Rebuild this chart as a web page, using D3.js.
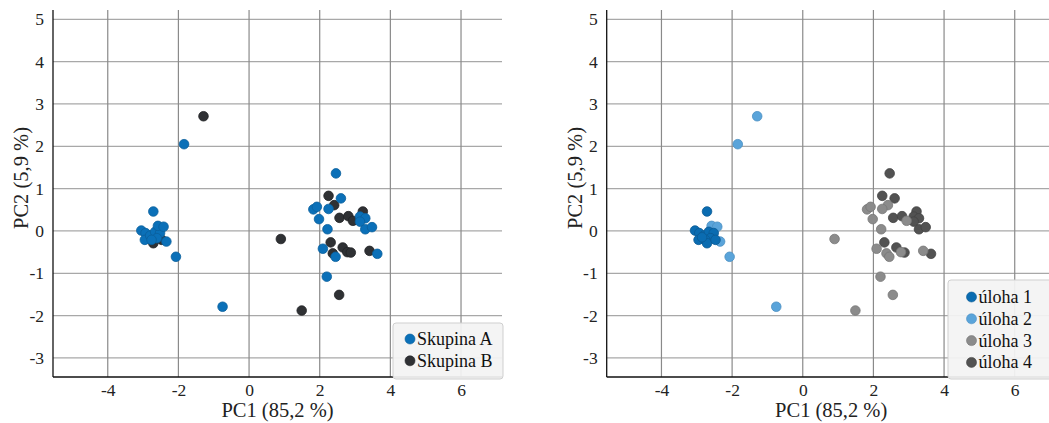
<!DOCTYPE html>
<html>
<head>
<meta charset="utf-8">
<script src="https://cdn.jsdelivr.net/npm/d3@7"></script>
<style>
  body { margin: 0; background: #fff; }
  svg { display: block; font-family: "Liberation Serif", "Times New Roman", serif; }
</style>
</head>
<body>
<svg id="chart" width="1049" height="423"></svg>
<script>
// PCA scores (PC1, PC2), group and task for each sample
const pc1 = [
  -3.05, -2.93, -2.95, -2.80, -2.66, -2.52, -2.61, -2.76, -2.71, -2.47, -2.85, -2.71,
  -1.29, -1.84, -2.58, -2.42, -2.34, -2.07, -0.75,
  0.90, 1.49, 2.55, 2.20, 2.46, 2.25, 2.60, 2.41, 1.82, 1.92, 2.25, 1.98,
  2.56, 2.81, 2.94, 3.22, 3.14, 3.29, 3.14, 3.29, 3.48, 2.22, 2.31, 2.09,
  2.65, 2.37, 2.45, 2.78, 2.88, 3.41, 3.63
];
const pc2 = [
  0.01, -0.05, -0.21, -0.11, -0.02, -0.05, -0.17, -0.21, -0.29, -0.21, -0.15, 0.46,
  2.71, 2.05, 0.12, 0.10, -0.25, -0.61, -1.79,
  -0.19, -1.88, -1.51, -1.08, 1.36, 0.83, 0.77, 0.61, 0.51, 0.57, 0.52, 0.28,
  0.31, 0.35, 0.24, 0.46, 0.34, 0.30, 0.22, 0.04, 0.09, 0.04, -0.27, -0.42,
  -0.39, -0.53, -0.61, -0.50, -0.51, -0.47, -0.54
];
const skupina = [
  "A", "A", "A", "A", "A", "A", "A", "A", "B", "B", "B", "A",
  "B", "A", "A", "A", "A", "A", "A",
  "B", "B", "B", "A", "A", "B", "A", "B", "A", "A", "A", "A",
  "B", "B", "B", "B", "A", "A", "A", "A", "A", "A", "B", "A",
  "B", "B", "A", "B", "B", "B", "A"
];
const uloha = [
  1, 1, 1, 1, 1, 1, 1, 1, 1, 1, 1, 1,
  2, 2, 2, 2, 2, 2, 2,
  3, 3, 3, 3, 4, 4, 4, 3, 3, 3, 3, 3,
  4, 4, 3, 4, 4, 4, 4, 4, 4, 3, 4, 3,
  4, 3, 3, 3, 4, 3, 4
];

const xTicks = [-4, -2, 0, 2, 4, 6];
const yTicks = [-3, -2, -1, 0, 1, 2, 3, 4, 5];
const groupNames = ["A", "B"];
const groupLabels = ["Skupina A", "Skupina B"];
const taskNames = [1, 2, 3, 4];
const taskLabels = ["úloha 1", "úloha 2", "úloha 3", "úloha 4"];

const points = pc1.map((x, i) => ({ x: x, y: pc2[i], g: skupina[i], t: uloha[i] }));

const groupColor = d3.scaleOrdinal().domain(groupNames).range(["#0b70b8", "#2f3134"]);
const groupStroke = d3.scaleOrdinal().domain(groupNames).range(["#0a5f9c", "#222326"]);
const taskColor = d3.scaleOrdinal().domain(taskNames).range(["#0a6cb1", "#5aa4da", "#8b8b8b", "#525252"]);
const taskStroke = d3.scaleOrdinal().domain(taskNames).range(["#0a5a94", "#4b8fc2", "#777", "#444"]);

const svg = d3.select("#chart");

// plain hyphen for negatives, like the original
const fmt = d => String(d);

const drawPanel = (left, data, fill, stroke, order, keyOf, legendItems, legendBox) => {
  const W = 449, top = 10, bottom = 377;
  let x = d3.scaleLinear().domain([-5.55, 7.16]).range([left, left + W]);
  let y = d3.scaleLinear().domain([-3.45, 5.22]).range([bottom, top]);

  let g = svg.append("g");

  // grid
  g.append("g").selectAll("line").data(yTicks).enter().append("line")
    .attr("x1", left).attr("x2", left + W)
    .attr("y1", d => y(d)).attr("y2", d => y(d))
    .attr("stroke", "#a8a8a8").attr("stroke-width", 1.2);
  g.append("g").selectAll("line").data(xTicks).enter().append("line")
    .attr("x1", d => x(d)).attr("x2", d => x(d))
    .attr("y1", top).attr("y2", bottom)
    .attr("stroke", "#8a8a8a").attr("stroke-width", 1.2);

  // axes (labels only, no tick marks)
  let xAxis = g.append("g").attr("transform", "translate(0," + bottom + ")")
    .call(d3.axisBottom(x).tickValues(xTicks).tickFormat(fmt).tickSize(0).tickPadding(7));
  let yAxis = g.append("g").attr("transform", "translate(" + left + ",0)")
    .call(d3.axisLeft(y).tickValues(yTicks).tickFormat(fmt).tickSize(0).tickPadding(9));
  [xAxis, yAxis].forEach(a => {
    a.attr("font-family", null);
    a.select(".domain").remove();
    a.selectAll("text").attr("font-size", 17.5).attr("fill", "#222");
  });

  g.append("line").attr("x1", left).attr("x2", left).attr("y1", top).attr("y2", bottom)
    .attr("stroke", "#111").attr("stroke-width", 1.3);
  g.append("line").attr("x1", left).attr("x2", left + W).attr("y1", bottom).attr("y2", bottom)
    .attr("stroke", "#111").attr("stroke-width", 1.5);

  // axis titles
  g.append("text").attr("x", left + W / 2).attr("y", 417).attr("text-anchor", "middle")
    .attr("font-size", 20.5).attr("fill", "#222").text("PC1 (85,2 %)");
  g.append("text").attr("transform", "translate(" + (left - 25) + ",178) rotate(-90)")
    .attr("text-anchor", "middle").attr("font-size", 20.5).attr("fill", "#222").text("PC2 (5,9 %)");

  // points, drawn so that earlier keys in `order` end up on top
  let sorted = data.slice().sort((a, b) => order.indexOf(keyOf(b)) - order.indexOf(keyOf(a)));
  g.append("g").selectAll("circle").data(sorted).enter().append("circle")
    .attr("cx", d => x(d.x)).attr("cy", d => y(d.y)).attr("r", 4.8)
    .attr("fill", d => fill(keyOf(d))).attr("stroke", d => stroke(keyOf(d))).attr("stroke-width", 0.8);

  // legend
  let lg = g.append("g");
  lg.append("rect").attr("x", legendBox[0]).attr("y", legendBox[1])
    .attr("width", legendBox[2]).attr("height", legendBox[3]).attr("rx", 3)
    .attr("fill", "#f3f3f3").attr("fill-opacity", 0.93).attr("stroke", "#cfcfcf");
  legendItems.forEach((it, i) => {
    let cy = legendBox[1] + legendBox[4] + i * 21.8;
    lg.append("circle").attr("cx", legendBox[0] + legendBox[5]).attr("cy", cy).attr("r", 5)
      .attr("fill", fill(it[0])).attr("stroke", stroke(it[0])).attr("stroke-width", 0.6);
    lg.append("text").attr("x", legendBox[0] + legendBox[5] + 7).attr("y", cy + 6)
      .attr("font-size", 18).attr("fill", "#111").text(it[1]);
  });
};

drawPanel(53, points, groupColor, groupStroke, ["A", "B"], d => d.g,
  groupNames.map((n, i) => [n, groupLabels[i]]), [393, 323, 110, 56, 16, 17]);

drawPanel(606.7, points, taskColor, taskStroke, [1, 2, 3, 4], d => d.t,
  taskNames.map((n, i) => [n, taskLabels[i]]), [948, 280, 110, 99, 17, 23.5]);
</script>
</body>
</html>
